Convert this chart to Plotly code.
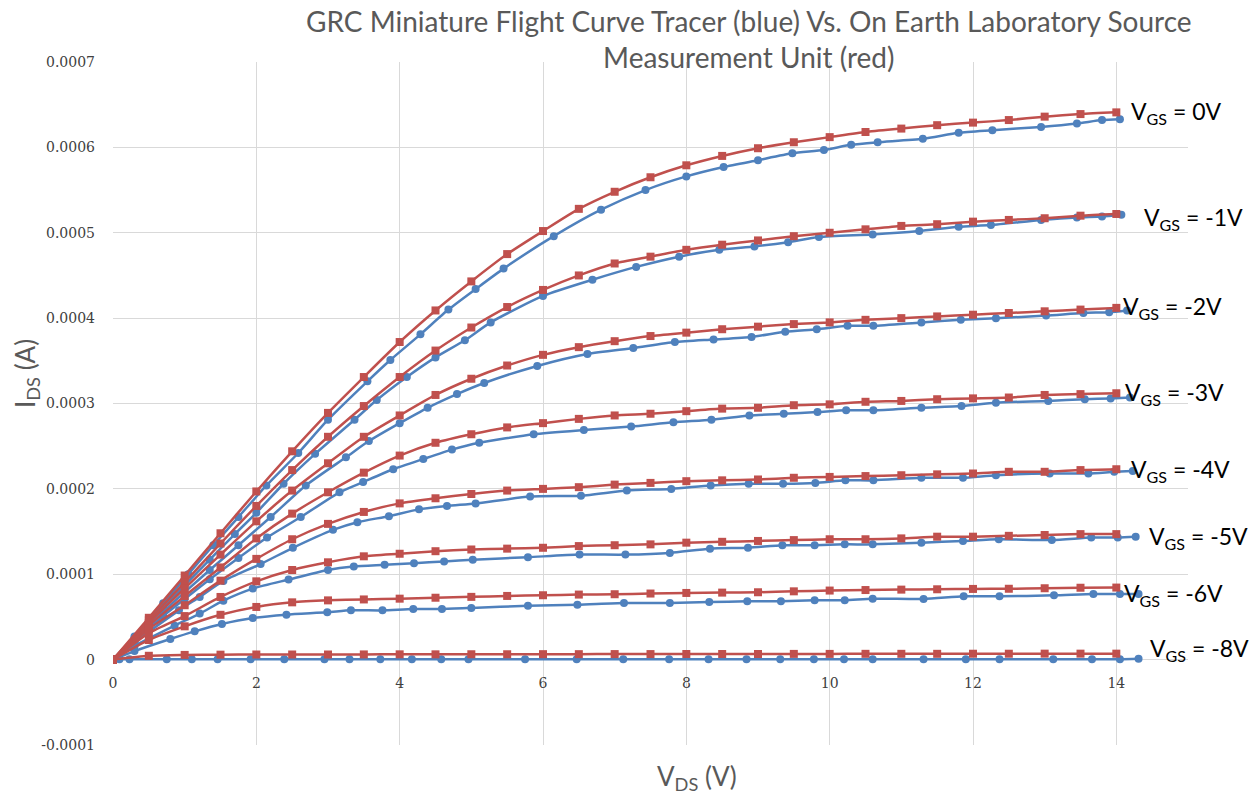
import plotly.graph_objects as go

# ---------------- data ----------------
vgs_labels = ["0V", "-1V", "-2V", "-3V", "-4V", "-5V", "-6V", "-8V"]

# Laboratory SMU (red): common VDS sweep 0..14 V in 0.5 V steps
red_x = [0, 0.5, 1, 1.5, 2, 2.5, 3, 3.5, 4, 4.5, 5, 5.5, 6, 6.5, 7, 7.5, 8,
         8.5, 9, 9.5, 10, 10.5, 11, 11.5, 12, 12.5, 13, 13.5, 14]

red_0 = [0, 0.000049, 0.0000985, 0.000148, 0.000197, 0.000244, 0.000289, 0.000331,
         0.000372, 0.000409, 0.000443, 0.000475, 0.000502, 0.000528, 0.000548,
         0.000565, 0.000579, 0.00059, 0.000599, 0.000606, 0.000612, 0.000618,
         0.000622, 0.000626, 0.000629, 0.000632, 0.000636, 0.000639, 0.000641]
red_1 = [0, 0.000046, 0.0000906, 0.000136, 0.00018, 0.000222, 0.000261, 0.000297,
         0.000331, 0.000362, 0.000389, 0.000413, 0.000433, 0.00045, 0.000464,
         0.000472, 0.00048, 0.000486, 0.000491, 0.000496, 0.0005, 0.000504,
         0.000508, 0.00051, 0.000513, 0.000515, 0.000517, 0.00052, 0.000522]
red_2 = [0, 0.000043, 0.0000835, 0.000123, 0.000162, 0.000198, 0.00023, 0.000261,
         0.000286, 0.00031, 0.000329, 0.0003445, 0.000357, 0.000366, 0.000373,
         0.000379, 0.000383, 0.000387, 0.00039, 0.000393, 0.000395, 0.000398,
         0.0004, 0.000402, 0.000404, 0.000406, 0.000408, 0.00041, 0.000412]
red_3 = [0, 0.00004, 0.0000745, 0.000108, 0.000142, 0.000171, 0.000196, 0.000219,
         0.000239, 0.000254, 0.000264, 0.000272, 0.000277, 0.000282, 0.000286,
         0.000288, 0.000291, 0.000294, 0.000295, 0.000298, 0.000299, 0.000302,
         0.000303, 0.000305, 0.000306, 0.000307, 0.00031, 0.000311, 0.000312]
red_4 = [0, 0.000036, 0.0000637, 0.0000925, 0.000118, 0.000141, 0.000159, 0.000173,
         0.000183, 0.000189, 0.000194, 0.000198, 0.0002, 0.000202, 0.000205,
         0.000207, 0.000209, 0.00021, 0.000211, 0.000213, 0.000214, 0.000215,
         0.000216, 0.000217, 0.000218, 0.00022, 0.00022, 0.000222, 0.000223]
red_5 = [0, 0.000031, 0.000051, 0.0000734, 0.0000917, 0.000105, 0.000114, 0.000121,
         0.000124, 0.000127, 0.000129, 0.00013, 0.000131, 0.000133, 0.000134,
         0.000135, 0.000137, 0.000138, 0.000139, 0.00014, 0.000141, 0.000141,
         0.000142, 0.000144, 0.000144, 0.000145, 0.000146, 0.000147, 0.000147]
red_6 = [0, 0.000023, 0.000039, 0.0000525, 0.0000617, 0.0000671, 0.0000694, 0.0000705,
         0.0000714, 0.0000725, 0.0000735, 0.0000746, 0.0000754, 0.0000762, 0.0000766,
         0.0000774, 0.0000781, 0.0000785, 0.0000789, 0.00008, 0.0000809, 0.0000815,
         0.000082, 0.0000824, 0.0000828, 0.000083, 0.0000836, 0.0000842, 0.0000844]
red_8 = [0, 0.0000045, 0.0000055, 0.0000058, 0.000006, 0.000006, 0.000006, 0.0000061,
         0.0000062, 0.0000062, 0.0000063, 0.0000063, 0.0000064, 0.0000064, 0.0000065,
         0.0000065, 0.0000066, 0.0000066, 0.0000066, 0.0000067, 0.0000067, 0.0000068,
         0.0000068, 0.0000068, 0.0000069, 0.0000069, 0.000007, 0.000007, 0.000007]

# GRC miniature flight curve tracer (blue): each sweep has its own VDS points
blue_x_0 = [0, 0.3, 0.7, 1.05, 1.4, 1.75, 2.14, 2.585, 3.0, 3.55, 3.87, 4.29, 4.68,
            5.06, 5.45, 6.15, 6.81, 7.43, 8.0, 8.52, 9.0, 9.48, 9.92, 10.3, 10.67,
            11.3, 11.8, 12.27, 12.95, 13.45, 13.8, 14.05]
blue_0 = [0, 0.000027, 0.000066, 0.0001, 0.000134, 0.000167, 0.000204, 0.000242,
          0.000281, 0.000326, 0.000351, 0.000381, 0.00041, 0.000434, 0.000458,
          0.000496, 0.000527, 0.00055, 0.000566, 0.000577, 0.000585, 0.000593,
          0.000597, 0.000603, 0.000606, 0.00061, 0.000617, 0.00062, 0.000624,
          0.000628, 0.000632, 0.000633]

blue_x_1 = [0, 0.3, 0.7, 1.0, 1.35, 1.7, 2.0, 2.38, 2.82, 3.37, 3.68, 4.1, 4.5, 4.91,
            5.27, 6.0, 6.69, 7.3, 7.9, 8.46, 8.95, 9.42, 9.85, 10.6, 11.25, 11.8,
            12.25, 12.95, 13.45, 13.8, 14.07]
blue_1 = [0, 0.000025, 0.000061, 0.000087, 0.000117, 0.000147, 0.000172, 0.000206,
          0.000241, 0.000281, 0.000304, 0.000331, 0.000354, 0.000374, 0.000395,
          0.000426, 0.000445, 0.00046, 0.000472, 0.00048, 0.000484, 0.000489,
          0.000495, 0.000498, 0.000502, 0.000507, 0.000509, 0.000515, 0.000518,
          0.000519, 0.000521]

blue_x_2 = [0, 0.3, 0.7, 1.0, 1.35, 1.75, 2.2, 2.69, 3.25, 3.57, 4.0, 4.39, 4.8, 5.18,
            5.92, 6.62, 7.26, 7.84, 8.38, 8.91, 9.38, 9.82, 10.25, 10.61, 11.28,
            11.83, 12.32, 13.02, 13.54, 13.9, 14.15]
blue_2 = [0, 0.000024, 0.000056, 0.000079, 0.000105, 0.000134, 0.000167, 0.000204,
          0.000237, 0.000256, 0.000277, 0.000295, 0.000311, 0.000324, 0.000344,
          0.000358, 0.000365, 0.000372, 0.000375, 0.000378, 0.000384, 0.000387,
          0.000391, 0.000391, 0.000395, 0.000398, 0.0004, 0.000403, 0.000406,
          0.000407, 0.000409]

blue_x_3 = [0, 0.3, 0.7, 1.0, 1.35, 1.75, 2.15, 2.62, 3.16, 3.49, 3.91, 4.33, 4.73,
            5.11, 5.87, 6.57, 7.23, 7.82, 8.35, 8.88, 9.36, 9.83, 10.23, 10.61, 11.28,
            11.84, 12.32, 13.05, 13.56, 13.92, 14.19]
blue_3 = [0, 0.000022, 0.000051, 0.000071, 0.000094, 0.000119, 0.000143, 0.000167,
          0.000196, 0.000208, 0.000223, 0.000235, 0.000246, 0.000254, 0.000264,
          0.000269, 0.000273, 0.000278, 0.000281, 0.000286, 0.000288, 0.00029,
          0.000292, 0.000292, 0.000295, 0.000297, 0.000301, 0.000303, 0.000305,
          0.000306, 0.000307]

blue_x_4 = [0, 0.3, 0.92, 1.21, 1.54, 2.06, 2.51, 3.07, 3.41, 3.85, 4.27, 4.66, 5.06,
            5.82, 6.53, 7.17, 7.79, 8.34, 8.87, 9.35, 9.8, 10.22, 10.61, 11.28, 11.86,
            12.32, 13.07, 13.61, 13.97, 14.23]
blue_4 = [0, 0.00002, 0.0000577, 0.0000734, 0.0000921, 0.000112, 0.000131, 0.000152,
          0.000161, 0.000168, 0.000176, 0.00018, 0.000183, 0.000191, 0.000192,
          0.000198, 0.0002, 0.000204, 0.000206, 0.000206, 0.000207, 0.00021, 0.00021,
          0.000213, 0.000213, 0.000216, 0.000218, 0.000218, 0.00022, 0.000221]

blue_x_5 = [0, 0.3, 0.86, 1.21, 1.54, 1.95, 2.45, 3.0, 3.36, 3.79, 4.2, 4.62, 5.02,
            5.79, 6.51, 7.15, 7.77, 8.33, 8.86, 9.34, 9.79, 10.21, 10.6, 11.28, 11.86,
            12.36, 13.1, 13.65, 14.02, 14.27]
blue_5 = [0, 0.000016, 0.0000398, 0.0000539, 0.0000691, 0.0000832, 0.0000938, 0.000105,
          0.000109, 0.000111, 0.000113, 0.000115, 0.000117, 0.00012, 0.000123,
          0.000123, 0.000125, 0.00013, 0.000131, 0.000134, 0.000134, 0.000135,
          0.000135, 0.000137, 0.000139, 0.000141, 0.00014, 0.000143, 0.000143, 0.000144]

blue_x_6 = [0, 0.3, 0.8, 1.14, 1.52, 1.95, 2.42, 2.99, 3.32, 3.76, 4.19, 4.59, 5.0,
            5.79, 6.48, 7.13, 7.77, 8.32, 8.85, 9.32, 9.79, 10.21, 10.6, 11.31, 11.87,
            12.37, 13.13, 13.68, 14.05, 14.31]
blue_6 = [0, 0.00001, 0.0000242, 0.0000331, 0.0000418, 0.0000488, 0.0000527, 0.0000554,
          0.0000577, 0.0000577, 0.0000593, 0.0000593, 0.0000605, 0.0000632, 0.0000644,
          0.0000664, 0.0000664, 0.0000675, 0.0000683, 0.0000683, 0.0000695, 0.0000695,
          0.0000714, 0.000071, 0.0000741, 0.0000741, 0.0000753, 0.0000769, 0.0000769,
          0.0000769]

blue_x_8 = [0, 0.09, 0.23, 0.75, 1.1, 1.46, 1.92, 2.39, 2.95, 3.3, 3.73, 4.17, 4.58,
            4.96, 5.75, 6.47, 7.12, 7.76, 8.31, 8.84, 9.31, 9.78, 10.2, 10.6, 11.31,
            11.9, 12.37, 13.12, 13.66, 14.05, 14.31]
blue_8 = [0, 0.0000003, 0.0000004, 0.0000005, 0.0000005, 0.0000005, 0.0000005,
          0.0000005, 0.0000005, 0.0000005, 0.0000005, 0.0000005, 0.0000005, 0.0000005,
          0.0000005, 0.0000005, 0.0000005, 0.0000005, 0.0000005, 0.0000005, 0.0000005,
          0.0000005, 0.0000005, 0.0000005, 0.0000005, 0.0000005, 0.0000005, 0.0000005,
          0.0000005, 0.0000005, 0.000001]

# label anchor positions (data coords) for the VGS annotations
label_x = [14.18, 14.36, 14.06, 14.09, 14.18, 14.43, 14.08, 14.44]
label_y = [0.000641, 0.000517, 0.000412, 0.000312, 0.000222, 0.000143, 0.000076, 0.0000117]

y_tick_vals = [-0.0001, 0, 0.0001, 0.0002, 0.0003, 0.0004, 0.0005, 0.0006, 0.0007]
y_tick_text = ["-0.0001", "0", "0.0001", "0.0002", "0.0003", "0.0004", "0.0005", "0.0006", "0.0007"]
x_tick_vals = [0, 2, 4, 6, 8, 10, 12, 14]

title_text = ("GRC Miniature Flight Curve Tracer (blue) Vs. On Earth Laboratory Source"
              "<br>Measurement Unit (red)")

# ---------------- figure ----------------
RED = "#C0504D"
BLUE = "#4F81BD"
W, H = 1252, 797
ML, MR, MT, MB = 113, 64, 62, 52
PW, PH = W - ML - MR, H - MT - MB

reds = [red_0, red_1, red_2, red_3, red_4, red_5, red_6, red_8]
blues = [(blue_x_0, blue_0), (blue_x_1, blue_1), (blue_x_2, blue_2), (blue_x_3, blue_3),
         (blue_x_4, blue_4), (blue_x_5, blue_5), (blue_x_6, blue_6), (blue_x_8, blue_8)]

fig = go.Figure()
for lab, (bx, by) in zip(vgs_labels, blues):
    fig.add_trace(go.Scatter(
        x=bx, y=by, mode="lines+markers", name="GRC " + lab,
        line=dict(color=BLUE, width=2.5, shape="spline", smoothing=0.6),
        marker=dict(symbol="circle", size=8, color=BLUE),
        showlegend=False))
for lab, ry in zip(vgs_labels, reds):
    fig.add_trace(go.Scatter(
        x=red_x, y=ry, mode="lines+markers", name="SMU " + lab,
        line=dict(color=RED, width=2.5, shape="spline", smoothing=0.6),
        marker=dict(symbol="square", size=8, color=RED),
        showlegend=False))

annotations = []
for lab, lx, ly in zip(vgs_labels, label_x, label_y):
    annotations.append(dict(
        x=lx, y=ly, xref="x", yref="y", xanchor="left", yanchor="middle",
        text="V<sub>GS</sub> = " + lab, showarrow=False,
        font=dict(family="Lato, sans-serif", size=23, color="#000000")))

# chart title (two lines, centred off the plot centre as in the original)
annotations.append(dict(
    x=(749 - ML) / PW, y=1 + (MT - 2) / PH, xref="paper", yref="paper",
    xanchor="center", yanchor="top", align="center",
    text=title_text, showarrow=False,
    font=dict(family="Lato, sans-serif", size=28, color="#595959")))

# axis titles
annotations.append(dict(
    x=(26 - ML) / PW, y=1 - (374 - MT) / PH, xref="paper", yref="paper",
    text="I<sub>DS</sub> (A)", showarrow=False, textangle=-90,
    xanchor="center", yanchor="middle",
    font=dict(family="Lato, sans-serif", size=26, color="#595959")))
annotations.append(dict(
    x=(697 - ML) / PW, y=-(777 - (MT + PH)) / PH, xref="paper", yref="paper",
    text="V<sub>DS</sub> (V)", showarrow=False, xanchor="center", yanchor="middle",
    font=dict(family="Lato, sans-serif", size=26, color="#595959")))

fig.update_layout(
    width=W, height=H,
    margin=dict(l=ML, r=MR, t=MT, b=MB),
    paper_bgcolor="white", plot_bgcolor="white",
    annotations=annotations,
    showlegend=False,
)

fig.update_xaxes(
    range=[0, 15], tickvals=x_tick_vals, showgrid=True, gridcolor="#D9D9D9",
    gridwidth=1, zeroline=False, showline=False,
    anchor="free", position=0.125, ticks="", ticklabelstandoff=13,
    tickfont=dict(family="DejaVu Serif, serif", size=14, color="#404040"),
)
fig.update_yaxes(
    range=[-0.0001, 0.0007], tickvals=y_tick_vals, ticktext=y_tick_text,
    showgrid=True, gridcolor="#D9D9D9", gridwidth=1, zeroline=False,
    showline=False, ticks="", ticklabelstandoff=17,
    tickfont=dict(family="DejaVu Serif, serif", size=14, color="#404040"),
)

fig.write_html("out.html", config={"displayModeBar": False},
               post_script="document.body.style.margin='0';")
